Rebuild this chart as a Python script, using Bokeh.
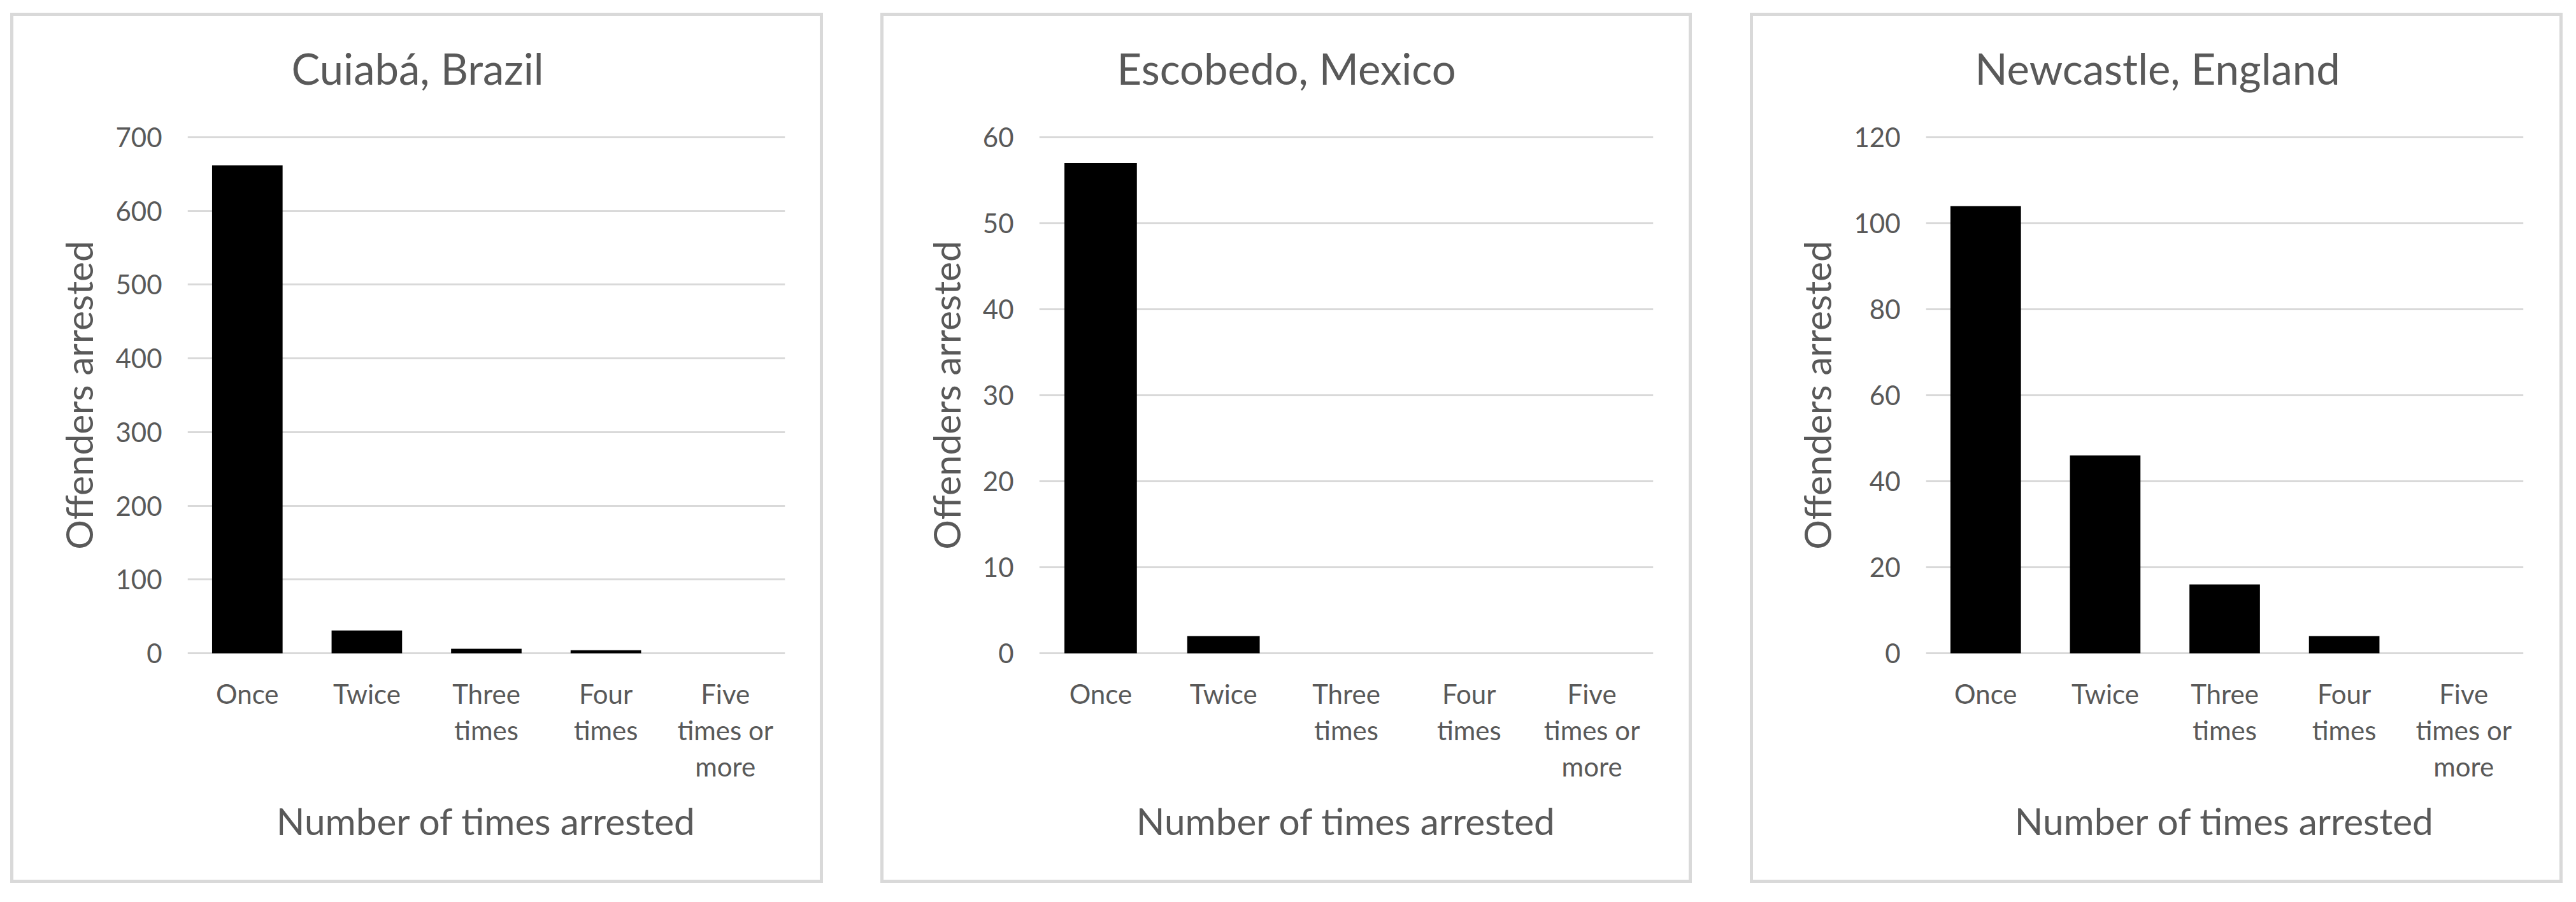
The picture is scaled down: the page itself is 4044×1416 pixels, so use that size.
from bokeh.plotting import figure
from bokeh.layouts import row, column
from bokeh.models import Spacer, SingleIntervalTicker, CategoricalAxis, Title
from bokeh.embed import file_html
from bokeh.resources import INLINE

# ---------------- data ----------------
categories = ["Once", "Twice", "Three\ntimes", "Four\ntimes", "Five\ntimes or\nmore"]

cuiaba_values = [662, 31, 6, 4, 0]
escobedo_values = [57, 2, 0, 0, 0]
newcastle_values = [104, 46, 16, 4, 0]

panel_titles = ["Cuiabá, Brazil", "Escobedo, Mexico", "Newcastle, England"]
y_max = [700, 60, 120]
y_step = [100, 10, 20]

x_title = "Number of times arrested"
y_title = "Offenders arrested"

# ---------------- style ----------------
FONT = "Lato"
TEXT = "#595959"
GRID = "#d9d9d9"
H = 1366          # outer panel height (incl. 5px border)
PAD = 3           # px of room so the 0 / max gridlines are not clipped
FRAME_TOP = 190   # canvas y of the max gridline
FRAME_H = 810     # px between max and 0 gridlines


def make_panel(title, values, ymax, ystep, width, b_left, b_right, title_offset):
    top = FRAME_TOP - PAD
    bottom = H - (FRAME_TOP + FRAME_H + PAD)
    pad_units = ymax * PAD / FRAME_H
    p = figure(x_range=categories, y_range=(-pad_units, ymax + pad_units),
               width=width, height=H, title=None,
               output_backend="svg", toolbar_location=None,
               min_border_left=b_left, min_border_right=b_right,
               min_border_top=top, min_border_bottom=bottom)
    p.vbar(x=categories, top=values, width=0.59, fill_color="black", line_color=None)

    p.outline_line_color = None
    p.background_fill_color = "white"
    p.border_fill_color = "white"
    p.xgrid.visible = False
    p.ygrid.grid_line_color = GRID
    p.ygrid.grid_line_width = 3

    p.yaxis.ticker = SingleIntervalTicker(interval=ystep)
    p.yaxis.minor_tick_line_color = None
    for ax in (p.xaxis, p.yaxis):
        ax.axis_line_color = None
        ax.major_tick_line_color = None
        ax.major_tick_in = 0
        ax.major_tick_out = 0
        ax.major_label_text_font = FONT
        ax.major_label_text_font_size = "42px"
        ax.major_label_text_color = TEXT
        ax.axis_label_text_font = FONT
        ax.axis_label_text_font_size = "58.5px"
        ax.axis_label_text_font_style = "normal"
        ax.axis_label_text_color = TEXT

    p.yaxis.axis_label = y_title
    p.yaxis.major_label_standoff = 36
    p.yaxis.axis_label_standoff = 20

    p.xaxis.axis_label = x_title
    p.xaxis.major_label_text_line_height = 1.14
    p.xaxis.major_label_standoff = 35
    p.xaxis.axis_label_standoff = 22

    # invisible gap between the plot area and the chart title
    gap = CategoricalAxis(axis_line_color=None, major_tick_line_color=None,
                          minor_tick_line_color=None, major_tick_out=61,
                          major_tick_in=0, major_label_standoff=0,
                          major_label_text_color=None,
                          major_label_text_font_size="1px")
    p.add_layout(gap, "above")

    p.add_layout(Title(text=title, align="left", offset=title_offset,
                       text_font=FONT, text_font_size="67px", text_font_style="normal",
                       text_color=TEXT, standoff=10), "above")

    p.styles = {"border": "5px solid #d9d9d9"}
    return p


p1 = make_panel(panel_titles[0], cuiaba_values, y_max[0], y_step[0], 1276, 273, 65, 163)
p2 = make_panel(panel_titles[1], escobedo_values, y_max[1], y_step[1], 1274, 244, 66, 122)
p3 = make_panel(panel_titles[2], newcastle_values, y_max[2], y_step[2], 1276, 271, 67, 77)

layout = column(Spacer(height=20),
                row(Spacer(width=16), p1, Spacer(width=90), p2, Spacer(width=91), p3))

open("out.html", "w").write(file_html(layout, INLINE))
